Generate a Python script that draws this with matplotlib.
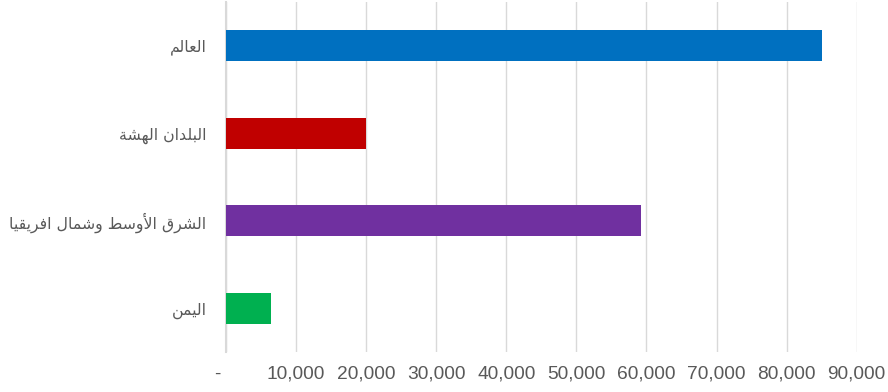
import matplotlib.pyplot as plt
from matplotlib.ticker import FuncFormatter

# chart data (top to bottom)
labels = ['العالم', 'البلدان الهشة', 'الشرق الأوسط وشمال افريقيا', 'اليمن']
values = [85100, 20000, 59250, 6400]
colors = ['#0070C0', '#C00000', '#7030A0', '#00B050']
x_ticks = [0, 10000, 20000, 30000, 40000, 50000, 60000, 70000, 80000, 90000]

# presentation forms: isolated, final, initial, medial
FORMS = {
    'ا': ('\uFE8D', '\uFE8E', None, None),
    'أ': ('\uFE83', '\uFE84', None, None),
    'ب': ('\uFE8F', '\uFE90', '\uFE91', '\uFE92'),
    'ة': ('\uFE93', '\uFE94', None, None),
    'د': ('\uFEA9', '\uFEAA', None, None),
    'ر': ('\uFEAD', '\uFEAE', None, None),
    'س': ('\uFEB1', '\uFEB2', '\uFEB3', '\uFEB4'),
    'ش': ('\uFEB5', '\uFEB6', '\uFEB7', '\uFEB8'),
    'ط': ('\uFEC1', '\uFEC2', '\uFEC3', '\uFEC4'),
    'ع': ('\uFEC9', '\uFECA', '\uFECB', '\uFECC'),
    'ف': ('\uFED1', '\uFED2', '\uFED3', '\uFED4'),
    'ق': ('\uFED5', '\uFED6', '\uFED7', '\uFED8'),
    'ل': ('\uFEDD', '\uFEDE', '\uFEDF', '\uFEE0'),
    'م': ('\uFEE1', '\uFEE2', '\uFEE3', '\uFEE4'),
    'ن': ('\uFEE5', '\uFEE6', '\uFEE7', '\uFEE8'),
    'ه': ('\uFEE9', '\uFEEA', '\uFEEB', '\uFEEC'),
    'و': ('\uFEED', '\uFEEE', None, None),
    'ي': ('\uFEF1', '\uFEF2', '\uFEF3', '\uFEF4'),
}
LAM_ALEF = {'ا': ('\uFEFB', '\uFEFC'), 'أ': ('\uFEF7', '\uFEF8')}


def joins_next(ch):
    return ch in FORMS and FORMS[ch][2] is not None


def shape(text):
    # join letters, then reverse for left-to-right drawing
    chars = list(text)
    out = []
    i = 0
    while i < len(chars):
        ch = chars[i]
        if ch not in FORMS:
            out.append(ch)
            i += 1
            continue
        prev = chars[i - 1] if i > 0 else None
        joined_before = prev is not None and joins_next(prev)
        if ch == 'ل' and i + 1 < len(chars) and chars[i + 1] in LAM_ALEF:
            out.append(LAM_ALEF[chars[i + 1]][1 if joined_before else 0])
            i += 2
            continue
        nxt = chars[i + 1] if i + 1 < len(chars) else None
        joined_after = joins_next(ch) and nxt in FORMS
        iso, fin, ini, med = FORMS[ch]
        if joined_before and joined_after:
            out.append(med)
        elif joined_before:
            out.append(fin)
        elif joined_after:
            out.append(ini)
        else:
            out.append(iso)
        i += 1
    return ''.join(reversed(out))


fig = plt.figure(figsize=(8.88, 3.92), dpi=100)
ax = fig.add_axes([0.2545, 0.102, 0.7103, 0.893])

pos = list(range(len(labels)))
ax.barh(pos, values, height=0.355, color=colors, zorder=3)

ax.set_xlim(0, 90000)
ax.set_ylim(len(labels) - 0.5, -0.5)
ax.set_xticks(x_ticks)
ax.xaxis.set_major_formatter(FuncFormatter(lambda v, p: '-   ' if v == 0 else f'{v:,.0f}'))
ax.set_yticks(pos)
ax.set_yticklabels([shape(l) for l in labels], family='DejaVu Sans', fontsize=11.3, color='#595959')

for t in ax.get_xticklabels():
    t.set_family('Liberation Sans')
    t.set_fontsize(13.8)
    t.set_color('#595959')

ax.grid(axis='x', color='#d9d9d9', linewidth=1, zorder=0)
ax.tick_params(axis='both', length=0)
ax.tick_params(axis='x', pad=10)
ax.tick_params(axis='y', pad=14)

for side in ['top', 'right', 'bottom']:
    ax.spines[side].set_visible(False)
ax.spines['left'].set_color('#d9d9d9')
ax.spines['left'].set_linewidth(1.5)

fig.savefig('out.png', dpi=100)
